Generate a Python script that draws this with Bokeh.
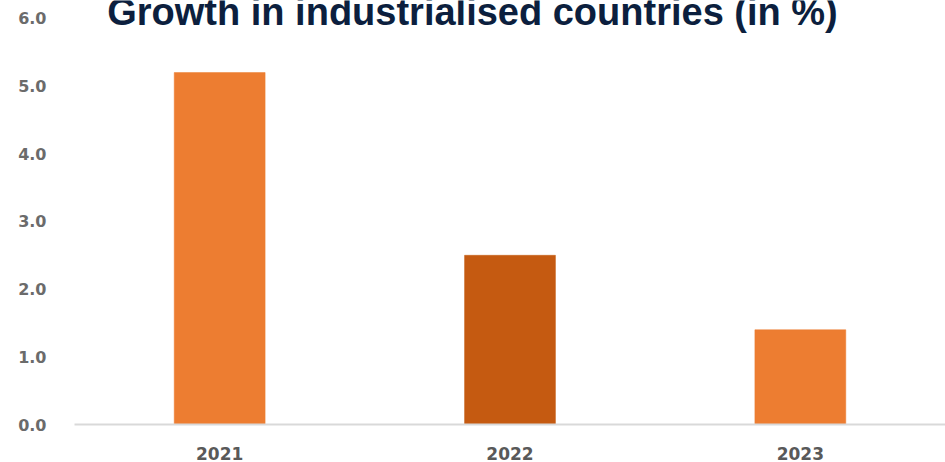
from bokeh.plotting import figure
from bokeh.models import ColumnDataSource, Range1d, FactorRange, FixedTicker, Label
from bokeh.embed import file_html
from bokeh.resources import INLINE

# ---- data ----
years = ["2021", "2022", "2023"]
growth = [5.2, 2.5, 1.4]
y_ticks = [0, 1, 2, 3, 4, 5, 6]
title_text = "Growth in industrialised countries (in %)"

bar_colors = ["#ED7D31", "#C55A11", "#ED7D31"]

source = ColumnDataSource(data=dict(year=years, growth=growth, color=bar_colors))

p = figure(
    width=945, height=462,
    x_range=FactorRange(*years, range_padding=0),
    y_range=Range1d(0, 6.265),
    output_backend="svg", toolbar_location=None,
    min_border_left=74, min_border_right=0, min_border_top=0, min_border_bottom=36,
)
p.outline_line_color = None
p.background_fill_color = "white"
p.border_fill_color = "white"
p.xgrid.visible = False
p.ygrid.visible = False

p.vbar(x="year", top="growth", width=0.313, source=source,
       fill_color="color", line_color="color", line_width=0.5)

# y axis
p.yaxis.ticker = FixedTicker(ticks=y_ticks)
p.yaxis.major_label_overrides = {t: f"{t:.1f}" for t in y_ticks}
p.yaxis.axis_line_color = None
p.yaxis.major_tick_line_color = None
p.yaxis.minor_tick_line_color = None
p.yaxis.major_label_text_font = "DejaVu Sans"
p.yaxis.major_label_text_font_style = "bold"
p.yaxis.major_label_text_font_size = "16px"
p.yaxis.major_label_text_color = "#6b6b6b"
p.yaxis.major_label_standoff = 22

# x axis
p.xaxis.axis_line_color = "#d9d9d9"
p.xaxis.axis_line_width = 2
p.xaxis.major_tick_line_color = None
p.xaxis.minor_tick_line_color = None
p.xaxis.major_label_text_font = "DejaVu Sans"
p.xaxis.major_label_text_font_style = "bold"
p.xaxis.major_label_text_font_size = "17px"
p.xaxis.major_label_text_color = "#595959"
p.xaxis.major_label_standoff = 16

title = Label(x=398, y=413, x_units="screen", y_units="screen",
              text=title_text, text_align="center", text_baseline="alphabetic",
              text_font="Liberation Sans", text_font_style="bold",
              text_font_size="38px", text_color="#0c1f3e")
p.add_layout(title)

open("out.html", "w").write(file_html(p, INLINE))
